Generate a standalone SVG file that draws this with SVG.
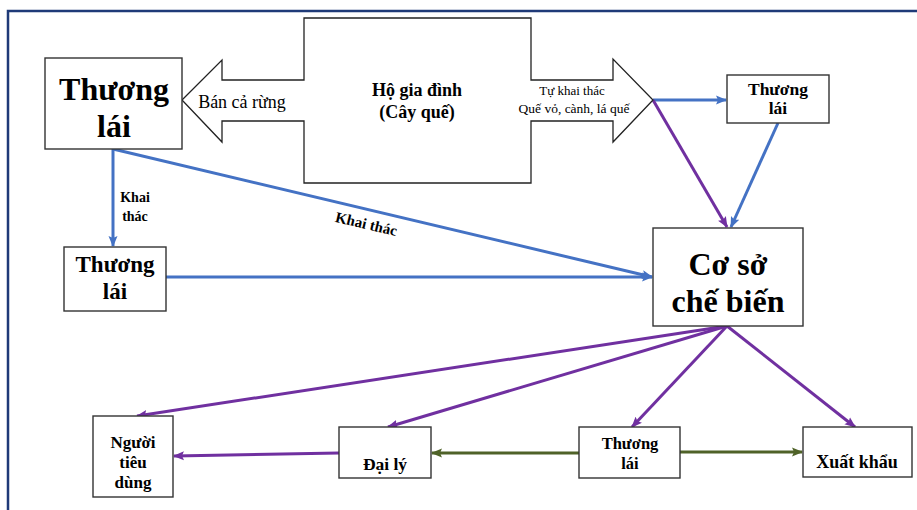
<svg xmlns="http://www.w3.org/2000/svg" width="917" height="510" viewBox="0 0 917 510">
  <defs>
    <style>
      .box { fill: #ffffff; stroke: #333333; stroke-width: 1.4; }
      .t { font-family: "Liberation Serif", "Times New Roman", serif; fill: #000; text-anchor: middle; }
      .b { font-weight: bold; }
      .blue { stroke: #4472C4; stroke-width: 3; fill: none; marker-end: url(#ab); }
      .purple { stroke: #7030A0; stroke-width: 3; fill: none; marker-end: url(#ap); }
      .green { stroke: #4F6228; stroke-width: 3; fill: none; marker-end: url(#ag); }
    </style>
    <marker id="ab" markerUnits="userSpaceOnUse" markerWidth="12" markerHeight="10" refX="10" refY="5" orient="auto">
      <path d="M0,0.5 L11,5 L0,9.5 L2,5 z" fill="#4472C4"/>
    </marker>
    <marker id="ap" markerUnits="userSpaceOnUse" markerWidth="12" markerHeight="10" refX="10" refY="5" orient="auto">
      <path d="M0,0.5 L11,5 L0,9.5 L2,5 z" fill="#7030A0"/>
    </marker>
    <marker id="ag" markerUnits="userSpaceOnUse" markerWidth="12" markerHeight="10" refX="10" refY="5" orient="auto">
      <path d="M0,0.5 L11,5 L0,9.5 L2,5 z" fill="#4F6228"/>
    </marker>
  </defs>

  <rect x="8" y="11" width="1000" height="600" fill="#ffffff" stroke="#1F3A78" stroke-width="2.5"/>

  <g id="connectors">
    <line class="blue" x1="113" y1="149" x2="113" y2="246"/>
    <line class="blue" x1="113" y1="149" x2="652" y2="277"/>
    <line class="blue" x1="166" y1="277" x2="652" y2="277"/>
    <line class="blue" x1="653" y1="100" x2="726" y2="100"/>
    <line class="blue" x1="778" y1="123" x2="731" y2="227"/>
    <line class="purple" x1="653" y1="100" x2="727" y2="227"/>
    <line class="purple" x1="727" y1="326" x2="137" y2="416"/>
    <line class="purple" x1="727" y1="326" x2="388" y2="427"/>
    <line class="purple" x1="727" y1="326" x2="632" y2="427"/>
    <line class="purple" x1="727" y1="326" x2="855" y2="427"/>
    <line class="purple" x1="339" y1="453" x2="174" y2="456"/>
    <line class="green" x1="579" y1="453" x2="432" y2="453"/>
    <line class="green" x1="680" y1="452" x2="802" y2="452"/>
    <text class="t b" font-size="14" x="135" y="202">Khai</text>
    <text class="t b" font-size="14" x="135" y="221">thác</text>
    <text class="t b" font-size="15" x="366" y="229" transform="rotate(13.3 366 225)">Khai thác</text>
  </g>

  <g id="ho-gia-dinh">
    <polygon points="182,100 222,60 222,80 304,80 304,18 531,18 531,80 613,80 613,59 653,100 613,142 613,121 531,121 531,183 304,183 304,121 222,121 222,142" fill="#ffffff" stroke="#222222" stroke-width="1.3"/>
    <text class="t b" font-size="18" x="417" y="96">Hộ gia đình</text>
    <text class="t b" font-size="18" x="417" y="118">(Cây quế)</text>
    <text class="t" font-size="18" x="242" y="108">Bán cả rừng</text>
    <text class="t" font-size="13" x="572" y="95">Tự khai thác</text>
    <text class="t" font-size="13.5" x="574" y="113">Quế vỏ, cành, lá quế</text>
  </g>

  <g id="thuong-lai-1">
    <rect class="box" x="45" y="58" width="137" height="91"/>
    <text class="t b" font-size="32" x="114" y="100">Thương</text>
    <text class="t b" font-size="32" x="114" y="137">lái</text>
  </g>

  <g id="thuong-lai-2">
    <rect class="box" x="64" y="247" width="102" height="64"/>
    <text class="t b" font-size="23" x="115" y="272">Thương</text>
    <text class="t b" font-size="23" x="115" y="299">lái</text>
  </g>

  <g id="thuong-lai-3">
    <rect class="box" x="727" y="75" width="102" height="48"/>
    <text class="t b" font-size="17.5" x="778" y="95">Thương</text>
    <text class="t b" font-size="17.5" x="778" y="114">lái</text>
  </g>

  <g id="co-so-che-bien">
    <rect class="box" x="653" y="228" width="150" height="98"/>
    <text class="t b" font-size="32" x="728" y="275">Cơ sở</text>
    <text class="t b" font-size="32" x="728" y="312">chế biến</text>
  </g>

  <g id="nguoi-tieu-dung">
    <rect class="box" x="93" y="416" width="80" height="81"/>
    <text class="t b" font-size="17" x="133" y="448">Người</text>
    <text class="t b" font-size="17" x="133" y="468">tiêu</text>
    <text class="t b" font-size="17" x="133" y="488">dùng</text>
  </g>

  <g id="dai-ly">
    <rect class="box" x="339" y="427" width="92" height="51"/>
    <text class="t b" font-size="17.5" x="385" y="470">Đại lý</text>
  </g>

  <g id="thuong-lai-4">
    <rect class="box" x="579" y="427" width="101" height="51"/>
    <text class="t b" font-size="16.5" x="630" y="449">Thương</text>
    <text class="t b" font-size="16.5" x="630" y="469">lái</text>
  </g>

  <g id="xuat-khau">
    <rect class="box" x="803" y="427" width="109" height="50"/>
    <text class="t b" font-size="18" x="857" y="468">Xuất khẩu</text>
  </g>
</svg>
